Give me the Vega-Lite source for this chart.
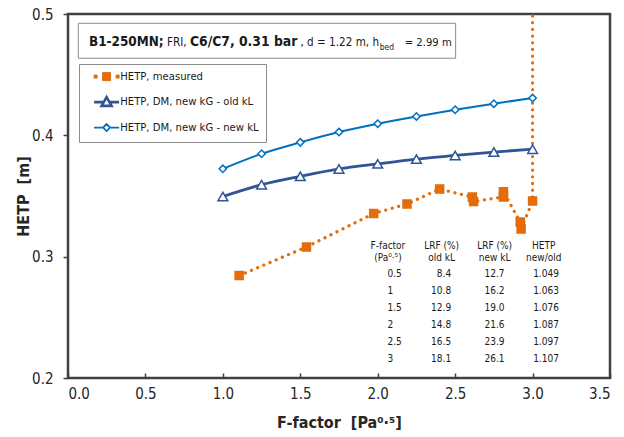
{
  "$schema": "https://vega.github.io/schema/vega-lite/v6.json",
  "width": 542,
  "height": 364,
  "autosize": {"type": "none"},
  "padding": {"left": 68, "top": 14, "right": 14, "bottom": 59},
  "background": "white",
  "config": {
    "font": "DejaVu Sans Condensed",
    "view": {"stroke": "#404040", "strokeWidth": 2.5},
    "axis": {
      "domain": false,
      "grid": false,
      "labelFont": "DejaVu Sans Condensed",
      "labelFontSize": 15,
      "labelColor": "#262626",
      "tickColor": "#404040",
      "tickWidth": 1.5,
      "titleFont": "DejaVu Sans Condensed",
      "titleFontSize": 16,
      "titleFontWeight": "bold",
      "titleColor": "#262626"
    },
    "text": {"font": "DejaVu Sans Condensed", "color": "#1a1a1a"}
  },
  "datasets": {
    "hetp": [
      {"series": "HETP, measured", "seq": 1, "F": 1.105, "HETP": 0.2844},
      {"series": "HETP, measured", "seq": 2, "F": 1.54, "HETP": 0.308},
      {"series": "HETP, measured", "seq": 3, "F": 1.974, "HETP": 0.3356},
      {"series": "HETP, measured", "seq": 4, "F": 2.189, "HETP": 0.3434},
      {"series": "HETP, measured", "seq": 5, "F": 2.4, "HETP": 0.3557},
      {"series": "HETP, measured", "seq": 6, "F": 2.611, "HETP": 0.3492},
      {"series": "HETP, measured", "seq": 7, "F": 2.619, "HETP": 0.3455},
      {"series": "HETP, measured", "seq": 8, "F": 2.812, "HETP": 0.3492},
      {"series": "HETP, measured", "seq": 9, "F": 2.812, "HETP": 0.3535},
      {"series": "HETP, measured", "seq": 10, "F": 2.92, "HETP": 0.3286},
      {"series": "HETP, measured", "seq": 11, "F": 2.926, "HETP": 0.3228},
      {"series": "HETP, measured", "seq": 12, "F": 3.0, "HETP": 0.3458},
      {"series": "HETP, measured", "seq": 13, "F": 3.0, "HETP": 0.62},
      {"series": "HETP, DM, new kG - old kL", "seq": 1, "F": 1.0, "HETP": 0.3496},
      {"series": "HETP, DM, new kG - old kL", "seq": 2, "F": 1.25, "HETP": 0.3593},
      {"series": "HETP, DM, new kG - old kL", "seq": 3, "F": 1.5, "HETP": 0.3662},
      {"series": "HETP, DM, new kG - old kL", "seq": 4, "F": 1.75, "HETP": 0.3723},
      {"series": "HETP, DM, new kG - old kL", "seq": 5, "F": 2.0, "HETP": 0.3765},
      {"series": "HETP, DM, new kG - old kL", "seq": 6, "F": 2.25, "HETP": 0.3804},
      {"series": "HETP, DM, new kG - old kL", "seq": 7, "F": 2.5, "HETP": 0.3834},
      {"series": "HETP, DM, new kG - old kL", "seq": 8, "F": 2.75, "HETP": 0.3862},
      {"series": "HETP, DM, new kG - old kL", "seq": 9, "F": 3.0, "HETP": 0.3886},
      {"series": "HETP, DM, new kG - new kL", "seq": 1, "F": 1.0, "HETP": 0.3724},
      {"series": "HETP, DM, new kG - new kL", "seq": 2, "F": 1.25, "HETP": 0.3848},
      {"series": "HETP, DM, new kG - new kL", "seq": 3, "F": 1.5, "HETP": 0.3942},
      {"series": "HETP, DM, new kG - new kL", "seq": 4, "F": 1.75, "HETP": 0.4027},
      {"series": "HETP, DM, new kG - new kL", "seq": 5, "F": 2.0, "HETP": 0.4096},
      {"series": "HETP, DM, new kG - new kL", "seq": 6, "F": 2.25, "HETP": 0.4156},
      {"series": "HETP, DM, new kG - new kL", "seq": 7, "F": 2.5, "HETP": 0.4211},
      {"series": "HETP, DM, new kG - new kL", "seq": 8, "F": 2.75, "HETP": 0.4261},
      {"series": "HETP, DM, new kG - new kL", "seq": 9, "F": 3.0, "HETP": 0.4307}
    ],
    "lrf": [
      {"F": 0.5, "old": 8.4, "new": 12.7, "ratio": 1.049},
      {"F": 1, "old": 10.8, "new": 16.2, "ratio": 1.063},
      {"F": 1.5, "old": 12.9, "new": 19.0, "ratio": 1.076},
      {"F": 2, "old": 14.8, "new": 21.6, "ratio": 1.087},
      {"F": 2.5, "old": 16.5, "new": 23.9, "ratio": 1.097},
      {"F": 3, "old": 18.1, "new": 26.1, "ratio": 1.107}
    ]
  },
  "layer": [
    {
      "layer": [
        {
          "data": {"name": "hetp"},
          "transform": [{"filter": "datum.series === 'HETP, measured'"}],
          "mark": {"type": "line", "color": "#E46C0A", "strokeWidth": 3.2, "strokeDash": [0.1, 6.6], "strokeCap": "round", "clip": true},
          "encoding": {
            "x": {"field": "F", "type": "quantitative", "scale": {"domain": [0, 3.5], "nice": false},
              "axis": {"title": "F-factor\u00a0 [Pa⁰·⁵]", "values": [0, 0.5, 1, 1.5, 2, 2.5, 3, 3.5], "format": ".1f", "tickSize": -5, "labelPadding": 13, "titlePadding": 13}},
            "y": {"field": "HETP", "type": "quantitative", "scale": {"domain": [0.2, 0.5], "nice": false, "zero": false},
              "axis": {"title": "HETP\u00a0 [m]", "values": [0.2, 0.3, 0.4, 0.5], "format": ".1f", "tickSize": 5, "labelPadding": 10, "titlePadding": 0}},
            "order": {"field": "seq", "type": "quantitative"}
          }
        },
        {
          "data": {"name": "hetp"},
          "transform": [{"filter": "datum.series === 'HETP, DM, new kG - old kL'"}],
          "mark": {"type": "line", "color": "#2F5597", "strokeWidth": 2.8, "interpolate": "monotone"},
          "encoding": {
            "x": {"field": "F", "type": "quantitative"},
            "y": {"field": "HETP", "type": "quantitative"},
            "order": {"field": "seq", "type": "quantitative"}
          }
        },
        {
          "data": {"name": "hetp"},
          "transform": [{"filter": "datum.series === 'HETP, DM, new kG - new kL'"}],
          "mark": {"type": "line", "color": "#0070C0", "strokeWidth": 2, "interpolate": "monotone"},
          "encoding": {
            "x": {"field": "F", "type": "quantitative"},
            "y": {"field": "HETP", "type": "quantitative"},
            "order": {"field": "seq", "type": "quantitative"}
          }
        },
        {
          "data": {"name": "hetp"},
          "mark": {"type": "point", "filled": true, "strokeWidth": 1.5, "opacity": 1, "clip": true},
          "encoding": {
            "x": {"field": "F", "type": "quantitative"},
            "y": {"field": "HETP", "type": "quantitative"},
            "stroke": {
              "field": "series", "type": "nominal",
              "scale": {"domain": ["HETP, measured", "HETP, DM, new kG - old kL", "HETP, DM, new kG - new kL"], "range": ["#E46C0A", "#2F5597", "#0070C0"]},
              "legend": {
                "orient": "none", "legendX": 11, "legendY": 50, "title": null,
                "padding": 7, "strokeColor": "#8c8c8c", "fillColor": "white",
                "labelFont": "DejaVu Sans Condensed", "labelFontSize": 11.2, "labelColor": "#1a1a1a",
                "symbolSize": 100, "symbolOffset": 15, "labelOffset": 8, "rowPadding": 8.5,
                "encoding": {
                  "symbols": {
                    "shape": {"value": {"expr": "datum.value === 'HETP, measured' ? 'M-2.5,-0.3h0.6v0.6h-0.6z M1.9,-0.3h0.6v0.6h-0.6z M-0.8,-0.8h1.6v1.6h-1.6z' : datum.value === 'HETP, DM, new kG - old kL' ? 'M-2.5,0H-0.57 M0.57,0H2.5 M0,-1L1,0.75H-1Z' : 'M-2.5,0H-0.7 M0.7,0H2.5 M0,-0.7L0.7,0L0,0.7L-0.7,0Z'"}},
                    "fill": {"value": {"expr": "datum.value === 'HETP, measured' ? '#E46C0A' : 'white'"}},
                    "strokeWidth": {"value": {"expr": "datum.value === 'HETP, measured' ? 1 : datum.value === 'HETP, DM, new kG - old kL' ? 2.6 : 1.8"}},
                    "size": {"value": 100},
                    "opacity": {"value": 1}
                  }
                }
              }
            },
            "fill": {"condition": {"test": "datum.series === 'HETP, measured'", "value": "#E46C0A"}, "value": "white"},
            "shape": {
              "condition": [
                {"test": "datum.series === 'HETP, measured'", "value": "square"},
                {"test": "datum.series === 'HETP, DM, new kG - old kL'", "value": "triangle-up"}
              ],
              "value": "diamond"
            },
            "size": {
              "condition": [
                {"test": "datum.series === 'HETP, measured'", "value": 64},
                {"test": "datum.series === 'HETP, DM, new kG - old kL'", "value": 95}
              ],
              "value": 55
            }
          }
        },
        {
          "data": {"values": [{}]},
          "mark": {"type": "rect", "fill": "white", "stroke": "#8c8c8c", "strokeWidth": 1},
          "encoding": {
            "x": {"datum": 0.0665, "type": "quantitative"},
            "x2": {"datum": 2.5032},
            "y": {"datum": 0.49235, "type": "quantitative"},
            "y2": {"datum": 0.46354}
          }
        },
        {
          "data": {"values": [{}]},
          "mark": {"type": "text", "align": "left", "baseline": "alphabetic", "fontSize": 13.4, "fontWeight": "bold", "text": "B1-250MN;"},
          "encoding": {"x": {"datum": 0.1355, "type": "quantitative"}, "y": {"datum": 0.47391, "type": "quantitative"}}
        },
        {
          "data": {"values": [{}]},
          "mark": {"type": "text", "align": "left", "baseline": "alphabetic", "fontSize": 11.6, "text": "FRI,"},
          "encoding": {"x": {"datum": 0.6387, "type": "quantitative"}, "y": {"datum": 0.47391, "type": "quantitative"}}
        },
        {
          "data": {"values": [{}]},
          "mark": {"type": "text", "align": "left", "baseline": "alphabetic", "fontSize": 13.8, "fontWeight": "bold", "text": "C6/C7, 0.31 bar"},
          "encoding": {"x": {"datum": 0.7871, "type": "quantitative"}, "y": {"datum": 0.47391, "type": "quantitative"}}
        },
        {
          "data": {"values": [{}]},
          "mark": {"type": "text", "align": "left", "baseline": "alphabetic", "fontSize": 11.6, "text": ", d = 1.22 m, h"},
          "encoding": {"x": {"datum": 1.5013, "type": "quantitative"}, "y": {"datum": 0.47391, "type": "quantitative"}}
        },
        {
          "data": {"values": [{}]},
          "mark": {"type": "text", "align": "left", "baseline": "alphabetic", "fontSize": 8.5, "text": "bed"},
          "encoding": {"x": {"datum": 2.0129, "type": "quantitative"}, "y": {"datum": 0.46996, "type": "quantitative"}}
        },
        {
          "data": {"values": [{}]},
          "mark": {"type": "text", "align": "left", "baseline": "alphabetic", "fontSize": 11.2, "text": "= 2.99 m"},
          "encoding": {"x": {"datum": 2.1742, "type": "quantitative"}, "y": {"datum": 0.47391, "type": "quantitative"}}
        }
      ]
    },
    {
      "layer": [
        {
          "data": {"name": "lrf"},
          "mark": {"type": "text", "align": "left", "baseline": "middle", "fontSize": 10},
          "encoding": {
            "x": {"datum": 2.0626, "type": "quantitative"},
            "y": {"field": "F", "type": "quantitative", "scale": {"domain": [-7.156, 3.55], "reverse": true, "nice": false, "zero": false}, "axis": null},
            "text": {"field": "F", "type": "quantitative"}
          }
        },
        {
          "data": {"name": "lrf"},
          "mark": {"type": "text", "align": "right", "baseline": "middle", "fontSize": 10},
          "encoding": {
            "x": {"datum": 2.474, "type": "quantitative"},
            "y": {"field": "F", "type": "quantitative"},
            "text": {"field": "old", "type": "quantitative", "format": ".1f"}
          }
        },
        {
          "data": {"name": "lrf"},
          "mark": {"type": "text", "align": "right", "baseline": "middle", "fontSize": 10},
          "encoding": {
            "x": {"datum": 2.819, "type": "quantitative"},
            "y": {"field": "F", "type": "quantitative"},
            "text": {"field": "new", "type": "quantitative", "format": ".1f"}
          }
        },
        {
          "data": {"name": "lrf"},
          "mark": {"type": "text", "align": "right", "baseline": "middle", "fontSize": 10},
          "encoding": {
            "x": {"datum": 3.17, "type": "quantitative"},
            "y": {"field": "F", "type": "quantitative"},
            "text": {"field": "ratio", "type": "quantitative", "format": ".3f"}
          }
        },
        {
          "data": {"values": [{}]},
          "mark": {"type": "text", "align": "center", "baseline": "middle", "fontSize": 10, "lineHeight": 12.6, "text": ["F-factor", "(Pa⁰·⁵)"]},
          "encoding": {"x": {"datum": 2.066, "type": "quantitative"}, "y": {"datum": -0.341, "type": "quantitative"}}
        },
        {
          "data": {"values": [{}]},
          "mark": {"type": "text", "align": "center", "baseline": "middle", "fontSize": 10, "lineHeight": 12.6, "text": ["LRF (%)", "old kL"]},
          "encoding": {"x": {"datum": 2.413, "type": "quantitative"}, "y": {"datum": -0.341, "type": "quantitative"}}
        },
        {
          "data": {"values": [{}]},
          "mark": {"type": "text", "align": "center", "baseline": "middle", "fontSize": 10, "lineHeight": 12.6, "text": ["LRF (%)", "new kL"]},
          "encoding": {"x": {"datum": 2.755, "type": "quantitative"}, "y": {"datum": -0.341, "type": "quantitative"}}
        },
        {
          "data": {"values": [{}]},
          "mark": {"type": "text", "align": "center", "baseline": "middle", "fontSize": 10, "lineHeight": 12.6, "text": ["HETP", "new/old"]},
          "encoding": {"x": {"datum": 3.072, "type": "quantitative"}, "y": {"datum": -0.341, "type": "quantitative"}}
        }
      ]
    }
  ],
  "resolve": {"scale": {"y": "independent"}}
}
